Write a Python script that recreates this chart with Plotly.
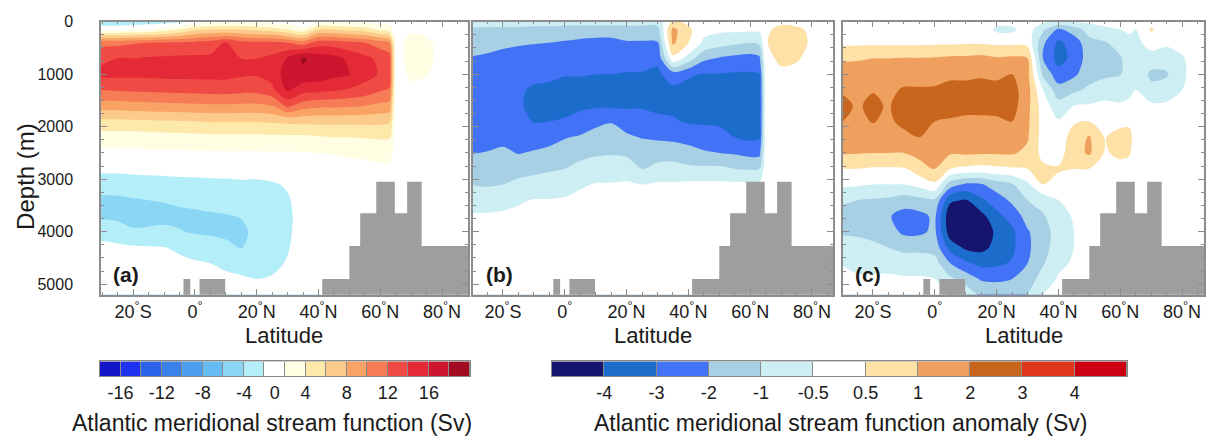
import numpy as np
import plotly.graph_objects as go

# ---------------- data ----------------
lat = [-31, -25, -20, -15, -10, -5, 0, 5, 10, 15, 20, 25, 30, 35, 40, 45, 50, 55, 60, 63, 65, 70, 75, 80, 85, 90]
depth = [0, 150, 400, 700, 1000, 1300, 1600, 1900, 2200, 2500, 2800, 3100, 3400, 3700, 4000, 4300, 4600, 4900, 5200]

Z19 = [0.0] * 19

# (a) mean Atlantic meridional stream function (Sv); one list per latitude, values down the depth list
sf_mean = [
    [-3.5, 1.0, 11.5, 13.5, 14.5, 12.0, 9.0, 5.5, 3.0, 1.0, -1.2, -3.0, -4.5, -4.4, -2.5, -1.2, -0.5, 0.0, 0.0],
    [-3.5, 1.0, 11.5, 14.0, 14.5, 12.2, 9.0, 5.5, 3.0, 1.2, -1.2, -3.0, -4.4, -4.5, -3.0, -1.3, -0.5, 0.0, 0.0],
    [-3.3, 1.5, 11.8, 14.0, 14.5, 12.3, 9.2, 5.6, 3.0, 1.2, -1.1, -2.8, -4.2, -4.6, -3.8, -1.5, -0.6, 0.0, 0.0],
    [-3.0, 2.0, 12.0, 14.2, 14.5, 12.4, 9.3, 5.7, 3.1, 1.3, -1.0, -2.7, -4.0, -4.6, -3.7, -1.7, -0.7, 0.0, 0.0],
    [-2.8, 3.0, 12.2, 14.3, 14.6, 12.5, 9.4, 5.8, 3.2, 1.3, -1.0, -2.6, -3.9, -4.5, -3.6, -1.9, -0.8, -0.2, 0.0],
    [-2.5, 4.0, 12.3, 14.4, 14.6, 12.6, 9.5, 5.9, 3.3, 1.4, -0.9, -2.5, -3.7, -4.4, -3.9, -2.3, -1.2, -0.3, 0.0],
    [0.0, 5.5, 12.6, 14.4, 14.6, 12.7, 9.6, 6.0, 3.4, 1.5, -0.8, -2.5, -3.6, -4.3, -4.2, -2.8, -1.6, -0.5, 0.0],
    [0.5, 6.0, 13.0, 14.4, 14.6, 12.8, 9.7, 6.1, 3.5, 1.5, -0.8, -2.4, -3.4, -4.2, -4.3, -3.1, -2.0, -0.8, 0.0],
    [1.0, 6.0, 14.2, 14.3, 14.6, 12.8, 9.7, 6.1, 3.5, 1.6, -0.7, -2.4, -3.3, -4.1, -4.5, -3.5, -2.4, -1.2, -0.3],
    [1.0, 6.0, 12.8, 14.0, 14.3, 12.6, 9.6, 6.1, 3.5, 1.6, -0.6, -2.3, -3.1, -3.9, -4.4, -4.1, -2.6, -1.6, -0.5],
    [0.8, 5.5, 12.5, 14.0, 14.2, 12.6, 9.6, 6.1, 3.5, 1.6, -1.2, -2.2, -2.8, -3.2, -3.5, -3.2, -2.5, -2.0, -1.0],
    [0.5, 5.0, 12.5, 14.5, 14.8, 13.5, 10.0, 6.2, 3.6, 1.7, -1.0, -2.1, -2.6, -2.8, -2.9, -2.7, -2.3, -1.8, -1.0],
    [0.0, 4.0, 12.0, 16.2, 17.0, 16.3, 12.5, 6.4, 3.6, 1.7, -0.5, -1.8, -2.1, -2.2, -2.2, -2.1, -1.8, -1.2, -0.5],
    [0.0, 2.5, 11.0, 18.3, 17.5, 14.8, 11.0, 6.5, 3.6, 1.8, 0.3, -1.0, -1.2, -1.2, -1.0, -0.8, -0.5, -0.3, 0.0],
    [1.0, 6.0, 13.0, 17.2, 17.2, 14.6, 10.5, 6.5, 3.8, 2.0, 0.5, -0.5, -0.6, -0.5, -0.4, -0.3, -0.2, 0.0, 0.0],
    [1.0, 6.0, 13.0, 16.8, 16.6, 14.2, 10.5, 6.5, 4.0, 2.1, 0.5, -0.3, -0.3, -0.3, -0.2, -0.1, 0.0, 0.0, 0.0],
    [1.0, 5.5, 12.5, 15.5, 16.1, 13.8, 10.3, 6.5, 4.0, 2.3, 0.6, 0.0, 0.0, 0.0, 0.0, 0.0, 0.0, 0.0, 0.0],
    [1.0, 5.0, 12.0, 14.5, 14.8, 13.2, 10.0, 6.5, 4.1, 2.5, 0.6, 0.0, 0.0, 0.0, 0.0, 0.0, 0.0, 0.0, 0.0],
    [0.5, 3.5, 11.0, 13.5, 13.8, 12.2, 9.5, 6.5, 4.2, 2.8, 1.0, 0.0, 0.0, 0.0, 0.0, 0.0, 0.0, 0.0, 0.0],
    [0.3, 3.0, 10.0, 13.0, 13.2, 11.8, 9.2, 6.3, 4.2, 2.9, 1.0, 0.0, 0.0, 0.0, 0.0, 0.0, 0.0, 0.0, 0.0],
    [0.0, 0.0, 0.5, 0.6, 0.5, 0.3, 0.2, 0.0, 0.0, 0.0, 0.0, 0.0, 0.0, 0.0, 0.0, 0.0, 0.0, 0.0, 0.0],
    [0.5, 1.5, 2.6, 2.7, 2.3, 1.2, 0.5, 0.0, 0.0, 0.0, 0.0, 0.0, 0.0, 0.0, 0.0, 0.0, 0.0, 0.0, 0.0],
    [0.3, 1.2, 2.3, 2.4, 2.1, 1.0, 0.4, 0.0, 0.0, 0.0, 0.0, 0.0, 0.0, 0.0, 0.0, 0.0, 0.0, 0.0, 0.0],
    [0.0, 0.5, 1.0, 1.0, 0.8, 0.4, 0.0, 0.0, 0.0, 0.0, 0.0, 0.0, 0.0, 0.0, 0.0, 0.0, 0.0, 0.0, 0.0],
    Z19,
    Z19,
]

# (b) anomaly (Sv)
sf_anom_b = [
    [-0.8, -1.1, -1.6, -2.05, -2.5, -2.8, -2.9, -2.8, -2.5, -2.05, -1.5, -1.0, -0.7, -0.4, -0.2, 0, 0, 0, 0],
    [-0.8, -1.2, -1.7, -2.15, -2.6, -2.85, -2.9, -2.8, -2.4, -1.95, -1.5, -1.1, -0.7, -0.4, -0.2, 0, 0, 0, 0],
    [-0.8, -1.2, -1.8, -2.3, -2.7, -2.95, -2.9, -2.7, -2.3, -1.8, -1.35, -1.0, -0.65, -0.35, -0.1, 0, 0, 0, 0],
    [-0.8, -1.2, -1.9, -2.4, -2.8, -2.95, -2.9, -2.7, -2.4, -2.05, -1.3, -0.9, -0.55, -0.3, -0.1, 0, 0, 0, 0],
    [-0.8, -1.3, -1.95, -2.5, -2.9, -3.05, -3.2, -3.05, -2.5, -1.9, -1.2, -0.85, -0.45, -0.3, -0.1, 0, 0, 0, 0],
    [-0.8, -1.3, -2.0, -2.6, -2.9, -3.1, -3.3, -3.0, -2.4, -1.7, -1.1, -0.8, -0.45, -0.3, -0.1, 0, 0, 0, 0],
    [-0.8, -1.4, -2.1, -2.7, -2.95, -3.3, -3.3, -2.9, -2.05, -1.6, -1.0, -0.7, -0.4, -0.2, 0, 0, 0, 0, 0],
    [-0.8, -1.5, -2.2, -2.75, -2.95, -3.3, -3.2, -2.6, -1.9, -1.3, -0.85, -0.55, -0.3, -0.1, 0, 0, 0, 0, 0],
    [-0.8, -1.5, -2.3, -2.8, -3.0, -3.3, -3.15, -2.2, -1.7, -1.15, -0.75, -0.45, -0.25, -0.1, 0, 0, 0, 0, 0],
    [-0.8, -1.5, -2.3, -2.8, -3.0, -3.3, -3.15, -2.05, -1.6, -1.1, -0.7, -0.45, -0.25, -0.1, 0, 0, 0, 0, 0],
    [-0.8, -1.4, -2.1, -2.7, -3.05, -3.3, -3.15, -2.4, -1.85, -1.2, -0.7, -0.4, -0.2, 0, 0, 0, 0, 0, 0],
    [-0.8, -1.4, -2.1, -2.7, -3.05, -3.3, -3.1, -2.6, -2.05, -1.4, -1.05, -0.5, -0.2, 0, 0, 0, 0, 0, 0],
    [-0.8, -1.4, -2.1, -2.8, -3.2, -3.3, -3.2, -2.8, -2.1, -1.6, -0.8, -0.4, -0.2, 0, 0, 0, 0, 0, 0],
    [0.6, 1.3, 1.2, 0.2, -2.5, -3.2, -3.2, -2.9, -2.2, -1.5, -0.8, -0.4, -0.1, 0, 0, 0, 0, 0, 0],
    [0.3, 0.6, 0.5, -0.7, -2.9, -3.25, -3.3, -3.1, -2.4, -1.6, -0.9, -0.3, 0, 0, 0, 0, 0, 0, 0],
    [0.0, -0.2, -0.6, -1.8, -3.05, -3.3, -3.35, -3.15, -2.5, -1.9, -0.9, -0.3, 0, 0, 0, 0, 0, 0, 0],
    [0.0, -0.3, -0.8, -2.1, -3.05, -3.35, -3.4, -3.2, -2.6, -2.0, -0.9, -0.3, 0, 0, 0, 0, 0, 0, 0],
    [0.0, -0.3, -0.9, -2.3, -3.1, -3.4, -3.45, -3.3, -3.0, -2.1, -1.0, -0.3, 0, 0, 0, 0, 0, 0, 0],
    [0.0, -0.3, -1.0, -2.4, -3.1, -3.4, -3.5, -3.4, -3.2, -2.3, -1.1, -0.3, 0, 0, 0, 0, 0, 0, 0],
    [0.0, -0.3, -0.9, -2.2, -3.05, -3.3, -3.4, -3.3, -3.1, -2.3, -1.0, -0.3, 0, 0, 0, 0, 0, 0, 0],
    [0.0, 0.3, 0.4, 0.2, 0, 0, 0, 0, 0, 0, 0, 0, 0, 0, 0, 0, 0, 0, 0],
    [0.3, 0.65, 0.8, 0.6, 0.3, 0, 0, 0, 0, 0, 0, 0, 0, 0, 0, 0, 0, 0, 0],
    [0.2, 0.6, 0.75, 0.55, 0.2, 0, 0, 0, 0, 0, 0, 0, 0, 0, 0, 0, 0, 0, 0],
    [0.0, 0.3, 0.3, 0.2, 0, 0, 0, 0, 0, 0, 0, 0, 0, 0, 0, 0, 0, 0, 0],
    Z19,
    Z19,
]

# (c) anomaly (Sv)
sf_anom_c = [
    [0.1, 0.2, 0.3, 0.9, 1.6, 1.95, 2.3, 2.05, 1.6, 1.1, 0.5, -0.3, -0.9, -1.3, -1.1, -0.8, -0.5, -0.3, 0],
    [0.1, 0.2, 0.3, 0.95, 1.5, 1.8, 1.9, 1.8, 1.5, 1.05, 0.5, -0.4, -1.0, -1.3, -1.2, -0.8, -0.6, -0.4, 0],
    [0.1, 0.2, 0.3, 1.0, 1.6, 1.95, 2.2, 2.05, 1.6, 1.0, 0.4, -0.5, -1.1, -1.5, -1.3, -0.9, -0.6, -0.4, 0],
    [0.1, 0.2, 0.3, 1.0, 1.5, 1.8, 1.9, 1.8, 1.5, 1.0, 0.4, -0.5, -1.2, -1.9, -1.6, -1.0, -0.6, -0.4, 0],
    [0.1, 0.2, 0.3, 1.05, 1.6, 2.1, 2.5, 2.3, 1.7, 1.0, 0.4, -0.5, -1.5, -2.4, -2.2, -1.3, -0.7, -0.4, 0],
    [0.1, 0.2, 0.3, 1.05, 1.6, 2.1, 2.5, 2.3, 2.0, 1.3, 0.8, -0.2, -1.3, -2.3, -2.2, -1.3, -0.7, -0.4, 0],
    [0.1, 0.2, 0.35, 1.1, 1.7, 2.1, 2.3, 2.0, 1.7, 1.4, 1.05, 0.3, -1.2, -1.8, -1.8, -1.4, -0.8, -0.5, 0],
    [0.1, 0.2, 0.35, 1.2, 1.8, 2.3, 2.4, 1.9, 1.5, 1.1, 0.5, -1.5, -3.8, -4.8, -4.6, -3.4, -2.0, -0.9, -0.6],
    [0.1, 0.2, 0.4, 1.2, 1.8, 2.3, 2.3, 1.8, 1.4, 1.15, 0.3, -2.2, -4.1, -4.9, -4.8, -4.2, -2.8, -1.4, -0.7],
    [0.1, 0.2, 0.4, 1.3, 1.9, 2.3, 2.3, 1.8, 1.4, 1.1, 0.2, -2.1, -3.2, -4.3, -4.7, -4.3, -3.3, -2.1, -1.2],
    [-0.2, -0.6, 0.3, 1.1, 1.8, 2.3, 2.3, 1.85, 1.5, 1.1, 0.3, -1.5, -2.5, -3.3, -3.8, -3.7, -3.2, -2.2, -1.2],
    [-0.2, -0.6, 0.3, 1.2, 2.0, 2.4, 2.4, 2.0, 1.5, 1.1, 0.4, -1.1, -1.8, -2.6, -3.2, -3.2, -2.9, -2.0, -1.2],
    [0.0, 0.0, 0.2, 1.05, 1.3, 1.4, 1.3, 1.2, 1.1, 0.9, 0.5, -0.6, -1.0, -1.6, -2.1, -2.2, -2.0, -1.5, -1.0],
    [-0.3, -0.9, -1.8, -2.0, -1.2, -0.5, 0.0, 0.1, 0.1, 0.2, 0.6, 0.5, -0.8, -1.1, -1.4, -1.3, -1.1, -0.8, -0.5],
    [-0.6, -2.2, -3.2, -3.4, -2.6, -1.6, -0.8, -0.4, 0.0, 0.1, 0.55, 0.2, -0.5, -0.7, -0.8, -0.8, -0.6, -0.4, -0.2],
    [-0.5, -1.5, -2.6, -2.7, -2.2, -1.2, -0.5, 0.4, 0.7, 0.8, 0.5, 0.0, -0.2, -0.4, -0.5, -0.5, -0.4, -0.2, 0],
    [-0.3, -0.8, -1.3, -1.5, -1.4, -0.9, -0.4, 0.5, 1.1, 1.15, 0.5, 0.1, 0, 0, 0, 0, 0, 0, 0],
    [-0.2, -0.6, -1.1, -1.3, -1.2, -0.7, -0.3, 0.1, 0.45, 0.4, 0.2, 0, 0, 0, 0, 0, 0, 0, 0],
    [-0.1, -0.5, -0.8, -1.1, -1.05, -0.7, -0.4, 0.2, 0.7, 0.6, 0.2, 0, 0, 0, 0, 0, 0, 0, 0],
    [0.0, -0.4, -0.6, -0.8, -0.8, -0.6, -0.3, 0.3, 0.65, 0.55, 0.1, 0, 0, 0, 0, 0, 0, 0, 0],
    [0.0, -0.5, -0.7, -0.7, -0.7, -0.5, -0.2, 0, 0, 0, 0, 0, 0, 0, 0, 0, 0, 0, 0],
    [0.3, 0.55, 0.1, -0.8, -1.15, -0.9, -0.3, 0, 0, 0, 0, 0, 0, 0, 0, 0, 0, 0, 0],
    [0.0, 0.0, -0.3, -0.8, -1.1, -0.8, -0.3, 0, 0, 0, 0, 0, 0, 0, 0, 0, 0, 0, 0],
    [0.0, 0.0, -0.2, -0.55, -0.6, -0.5, -0.2, 0, 0, 0, 0, 0, 0, 0, 0, 0, 0, 0, 0],
    Z19,
    Z19,
]

# contour levels and colours
levels_mean = [-16, -14, -12, -10, -8, -6, -4, -2, 2, 4, 6, 8, 10, 12, 14, 16, 18]
colors_mean = ['#1414c8', '#1e32f0', '#2a62ea', '#3a82ea', '#4c9eee', '#64bcf2', '#8ad6f4', '#b4eef8',
               '#ffffff', '#fffde2', '#fde9aa', '#fcca8a', '#f9a466', '#f67c56', '#f04a44', '#e42a36',
               '#cc1630', '#a20c22']
levels_anom = [-4, -3, -2, -1, -0.5, 0.5, 1, 2, 3, 4]
colors_anom = ['#15156e', '#1c6ccc', '#4272f5', '#a8d0e4', '#cdeef2', '#ffffff',
               '#fde1a6', '#f0a05e', '#c8661e', '#e0361a', '#cc0010']

cb_mean_labels = ['-16', '-12', '-8', '-4', '0', '4', '8', '12', '16']
cb_mean_label_pos = [1, 3, 5, 7, 8.5, 10, 12, 14, 16]
cb_anom_labels = ['-4', '-3', '-2', '-1', '-0.5', '0.5', '1', '2', '3', '4']

DEG = '<sup>°</sup>'
lat_tickvals = [-20, 0, 20, 40, 60, 80]
lat_ticktext = ['20' + DEG + 'S', '0' + DEG, '20' + DEG + 'N', '40' + DEG + 'N', '60' + DEG + 'N', '80' + DEG + 'N']
depth_tickvals = [0, 1000, 2000, 3000, 4000, 5000]

# bathymetry steps (latitude extent and top depth of each block)
bathy_left = [-3.7, 1.5, 41.2, 50.0, 53.5, 58.7, 64.7, 68.7, 73.4]
bathy_right = [-1.5, 9.8, 50.0, 53.5, 58.7, 64.7, 68.7, 73.4, 92.0]
bathy_top = [4900, 4900, 4900, 4270, 3650, 3050, 3650, 3050, 4270]

# ---------------- helpers ----------------
FONT = 'Liberation Sans, Arial, Helvetica, sans-serif'
TXT = '#1a1a1a'
FRAME = '#8c8c8c'
W, H = 1210, 441


def to_index(cols, levels):
    v = np.array(cols, dtype=float).T  # rows = depth, cols = lat
    lv = np.array(levels, dtype=float)
    idx = np.arange(1, len(lv) + 1, dtype=float)
    lo = 1.0 / (lv[1] - lv[0])
    hi = 1.0 / (lv[-1] - lv[-2])
    ext_lv = np.concatenate([[lv[0] - 100], lv, [lv[-1] + 100]])
    ext_idx = np.concatenate([[1 - 100 * lo], idx, [idx[-1] + 100 * hi]])
    return np.interp(v, ext_lv, ext_idx)


def stepped(colors):
    n = len(colors)
    m = n - 1
    cs = []
    for k, c in enumerate(colors):
        a = 0.0 if k == 0 else (k - 0.25) / m
        b = 1.0 if k == m else (k + 0.75) / m
        cs += [[a, c], [b, c]]
    return cs


def px_x(p):
    return p / W


def px_y(p):
    return 1 - p / H


fig = go.Figure()

panels = [
    (sf_mean, levels_mean, colors_mean, 'x', 'y'),
    (sf_anom_b, levels_anom, colors_anom, 'x2', 'y2'),
    (sf_anom_c, levels_anom, colors_anom, 'x3', 'y3'),
]

for cols, lv, colors, xa, ya in panels:
    z = to_index(cols, lv)
    fig.add_trace(go.Contour(
        x=lat, y=depth, z=z, xaxis=xa, yaxis=ya,
        autocontour=False,
        contours=dict(start=1, end=len(lv), size=1, coloring='fill', showlines=False),
        colorscale=stepped(colors), showscale=False,
        line=dict(width=0, smoothing=0.9), hoverinfo='skip'))
    bx, by = [], []
    for l, r, t in zip(bathy_left, bathy_right, bathy_top):
        bx += [l, r, r, l, l, None]
        by += [t, t, 5600, 5600, t, None]
    fig.add_trace(go.Scatter(x=bx, y=by, xaxis=xa, yaxis=ya, mode='lines', fill='toself',
                             fillcolor='#9e9e9e', line=dict(width=0, color='#9e9e9e'),
                             hoverinfo='skip', showlegend=False))

# colour bars as heatmaps
fig.add_trace(go.Heatmap(z=[list(range(len(colors_mean)))], x=[k + 0.5 for k in range(len(colors_mean))], y=[0],
                         colorscale=stepped(colors_mean), zmin=0, zmax=len(colors_mean) - 1,
                         showscale=False, xgap=1, xaxis='x4', yaxis='y4', hoverinfo='skip'))
fig.add_trace(go.Heatmap(z=[list(range(len(colors_anom)))], x=[k + 0.5 for k in range(len(colors_anom))], y=[0],
                         colorscale=stepped(colors_anom), zmin=0, zmax=len(colors_anom) - 1,
                         showscale=False, xgap=1, xaxis='x5', yaxis='y5', hoverinfo='skip'))

ydom = [px_y(292), px_y(14)]
xdoms = [[px_x(101), px_x(468)], [px_x(473), px_x(833)], [px_x(843), px_x(1204)]]
xranges = [[-30.4, 88.4], [-29.7, 86.8], [-29.7, 87.1]]


def xaxis(dom, rng):
    return dict(domain=dom, range=rng, tickmode='array', tickvals=lat_tickvals, ticktext=lat_ticktext,
                ticks='inside', ticklen=6, tickcolor=FRAME, tickwidth=1, showline=True, linecolor=FRAME,
                linewidth=1.5, mirror='ticks', showgrid=False, zeroline=False,
                tickfont=dict(size=18, color=TXT, family=FONT), ticklabelstandoff=0,
                minor=dict(ticks='inside', ticklen=3, tickcolor=FRAME, dtick=5, tick0=0, showgrid=False))


def yaxis(anchor, labels):
    return dict(domain=ydom, range=[5200, 0], anchor=anchor, tickmode='array', tickvals=depth_tickvals,
                showticklabels=labels, ticks='inside', ticklen=6, tickcolor=FRAME, showline=True,
                linecolor=FRAME, linewidth=1.5, mirror='ticks', showgrid=False, zeroline=False,
                tickfont=dict(size=16, color=TXT, family=FONT), ticklabelstandoff=23,
                minor=dict(ticks='inside', ticklen=3, tickcolor=FRAME, dtick=250, tick0=0, showgrid=False))


cb_dom_y = [px_y(375), px_y(360)]

fig.update_layout(
    width=W, height=H, margin=dict(l=0, r=0, t=0, b=0),
    paper_bgcolor='white', plot_bgcolor='white', showlegend=False,
    font=dict(family=FONT, color=TXT),
    xaxis=dict(xaxis(xdoms[0], xranges[0]), anchor='y'),
    xaxis2=dict(xaxis(xdoms[1], xranges[1]), anchor='y2'),
    xaxis3=dict(xaxis(xdoms[2], xranges[2]), anchor='y3'),
    yaxis=yaxis('x', True),
    yaxis2=yaxis('x2', False),
    yaxis3=yaxis('x3', False),
    xaxis4=dict(domain=[px_x(100), px_x(470)], range=[0, len(colors_mean)], anchor='y4',
                tickmode='array', tickvals=cb_mean_label_pos, ticktext=cb_mean_labels, ticks='',
                showline=True, mirror=True, linecolor='#888888', linewidth=1, showgrid=False, zeroline=False,
                tickfont=dict(size=18, color=TXT, family=FONT), ticklabelstandoff=0),
    yaxis4=dict(domain=cb_dom_y, range=[-0.5, 0.5], anchor='x4', showticklabels=False, ticks='',
                showline=True, mirror=True, linecolor='#888888', linewidth=1, showgrid=False, zeroline=False),
    xaxis5=dict(domain=[px_x(552), px_x(1127)], range=[0, len(colors_anom)], anchor='y5',
                tickmode='array', tickvals=list(range(1, len(colors_anom))), ticktext=cb_anom_labels, ticks='',
                showline=True, mirror=True, linecolor='#888888', linewidth=1, showgrid=False, zeroline=False,
                tickfont=dict(size=18, color=TXT, family=FONT), ticklabelstandoff=0),
    yaxis5=dict(domain=cb_dom_y, range=[-0.5, 0.5], anchor='x5', showticklabels=False, ticks='',
                showline=True, mirror=True, linecolor='#888888', linewidth=1, showgrid=False, zeroline=False),
)

# grey background behind colour bars so the gaps read as separators
for xr, yr in [('x4', 'y4'), ('x5', 'y5')]:
    fig.add_shape(type='rect', xref=xr + ' domain', yref=yr + ' domain', x0=0, x1=1, y0=0, y1=1,
                  fillcolor='#8a8a8a', line=dict(width=0), layer='below')


def note(text, x, y, size, angle=0, xanchor='center'):
    return dict(text=text, x=px_x(x), y=px_y(y), xref='paper', yref='paper', textangle=angle,
                xanchor=xanchor, yanchor='middle', showarrow=False,
                font=dict(size=size, color=TXT, family=FONT))


ann = [note('Depth (m)', 26, 172, 24, angle=-90)]
for cx in [284, 653, 1024]:
    ann.append(note('Latitude', cx, 334, 22))
for lab, lx in [('(a)', 111), ('(b)', 484), ('(c)', 853)]:
    ann.append(note('<b>' + lab + '</b>', lx, 271, 21, xanchor='left'))
ann.append(note('Atlantic meridional stream function (Sv)', 272, 423, 23))
ann.append(note('Atlantic meridional stream function anomaly (Sv)', 840, 423, 23))
fig.update_layout(annotations=ann)

fig.write_html('out.html')
